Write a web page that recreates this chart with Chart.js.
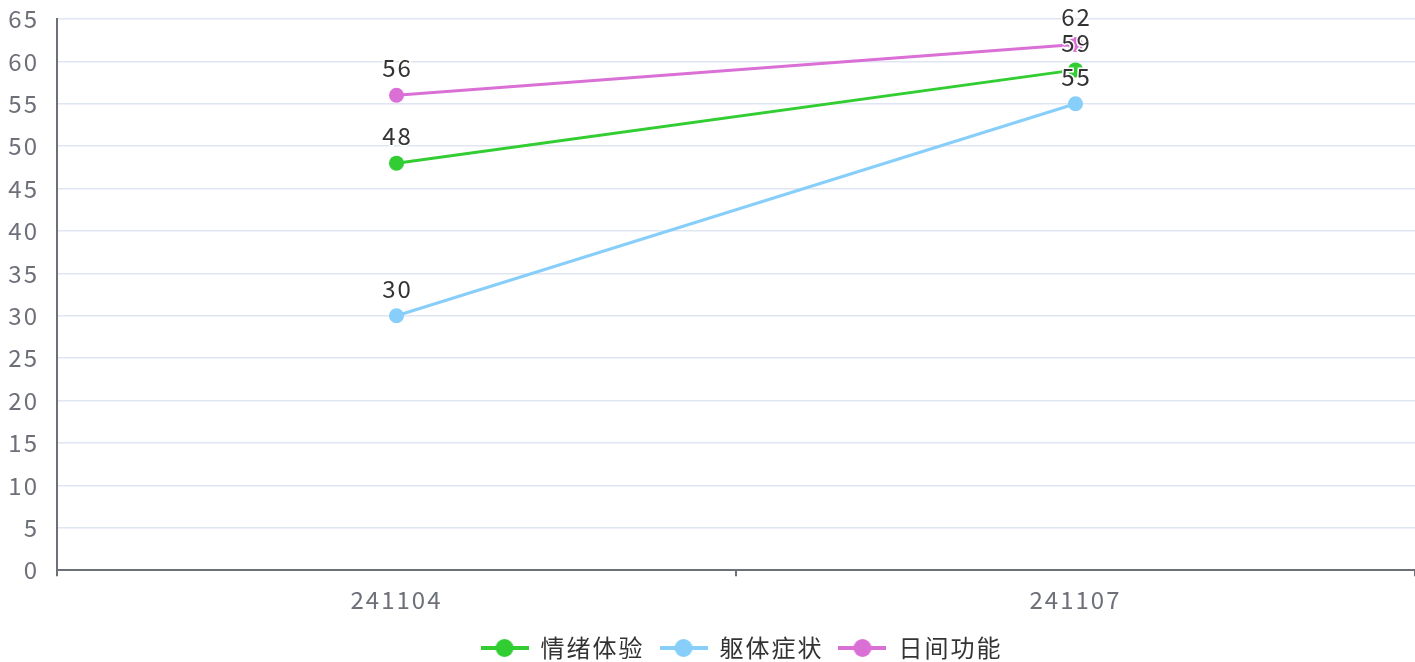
<!DOCTYPE html>
<html>
<head>
<meta charset="utf-8">
<script src="https://cdn.jsdelivr.net/npm/chart.js@4.4.0/dist/chart.umd.min.js"></script>
<style>
  html, body { margin: 0; padding: 0; background: #fff; }
  #wrap { width: 1415px; height: 662px; }
</style>
</head>
<body>
<div id="wrap"><canvas id="c"></canvas></div>
<script>
const categories = ["241104", "241107"];
const seriesNames = ["情绪体验", "躯体症状", "日间功能"];
const emotionValues = [48, 59];
const bodyValues = [30, 55];
const dayValues = [56, 62];
const yTicks = { min: 0, max: 65, step: 5 };

const cgreen = "#32CD32";
const cblue = "#87CEFA";
const corchid = "#DA70D6";
const caxis = "#6E7079";
const cgrid = "#E0E6F1";
const FONT = "'Noto Sans CJK SC', 'Noto Sans', sans-serif";
const colors = [cgreen, cblue, corchid];

// legend marker: short line with a dot on it
function marker(color) {
  const cv = document.createElement("canvas");
  cv.width = 48; cv.height = 20;
  const g = cv.getContext("2d");
  g.strokeStyle = color;
  g.lineWidth = 4;
  g.beginPath(); g.moveTo(0, 10); g.lineTo(48, 10); g.stroke();
  g.fillStyle = color;
  g.beginPath(); g.arc(24, 10, 9, 0, Math.PI * 2); g.fill();
  return cv;
}

// text in the reference is spaced a bit wider
const spacing = {
  id: "spacing",
  beforeUpdate(chart) { chart.ctx.letterSpacing = "2px"; },
  beforeLayout(chart) { chart.ctx.letterSpacing = "2px"; },
  beforeDraw(chart) { chart.ctx.letterSpacing = "2px"; }
};

// legend sits a little lower and right of centre in the reference
const legendShift = {
  id: "legendShift",
  afterLayout(chart) {
    const lg = chart.legend;
    lg.left += 34; lg.right += 34;
    lg.top += 8; lg.bottom += 8;
  }
};

const valueLabels = {
  id: "valueLabels",
  afterDatasetsDraw(chart) {
    const ctx = chart.ctx;
    ctx.save();
    ctx.font = "24px " + FONT;
    ctx.textAlign = "center";
    ctx.textBaseline = "alphabetic";
    ctx.lineWidth = 3;
    ctx.strokeStyle = "#fff";
    ctx.fillStyle = "#333";
    chart.data.datasets.forEach((ds, i) => {
      chart.getDatasetMeta(i).data.forEach((pt, j) => {
        const t = String(ds.data[j]);
        ctx.strokeText(t, pt.x + 1, pt.y - 18);
        ctx.fillText(t, pt.x + 1, pt.y - 18);
      });
    });
    ctx.restore();
  }
};

function ds(label, values, color) {
  return {
    label: label,
    data: values,
    borderColor: color,
    backgroundColor: color,
    borderWidth: 3,
    pointRadius: 7.5,
    pointHoverRadius: 7.5,
    pointBorderWidth: 0,
    tension: 0
  };
}

new Chart(document.getElementById("c"), {
  type: "line",
  data: {
    labels: categories,
    datasets: [
      ds(seriesNames[0], emotionValues, cgreen),
      ds(seriesNames[1], bodyValues, cblue),
      ds(seriesNames[2], dayValues, corchid)
    ]
  },
  plugins: [spacing, legendShift, valueLabels],
  options: {
    responsive: true,
    maintainAspectRatio: false,
    animation: false,
    layout: { autoPadding: false, padding: { top: 19, right: 0, left: 0, bottom: 0 } },
    scales: {
      x: {
        offset: true,
        afterFit(scale) {
          scale.paddingLeft = 0; scale.paddingRight = 0;
          scale.height -= 10;
        },
        grid: { offset: true, drawOnChartArea: false, tickLength: 6, color: caxis, lineWidth: 2 },
        border: { color: caxis, width: 2 },
        ticks: { color: caxis, font: { size: 24, family: FONT }, padding: 9 }
      },
      y: {
        min: yTicks.min,
        max: yTicks.max,
        afterFit(scale) {
          scale.width = 57;
          scale.paddingTop = 0; scale.paddingBottom = 0;
        },
        grid: { color: cgrid, lineWidth: 1.5, drawTicks: false },
        border: { color: caxis, width: 2 },
        ticks: { stepSize: yTicks.step, color: caxis, font: { size: 24, family: FONT }, padding: 18 }
      }
    },
    plugins: {
      tooltip: { enabled: false },
      legend: {
        position: "bottom",
        labels: {
          usePointStyle: true,
          pointStyleWidth: 48,
          color: "#333",
          font: { size: 24, family: FONT },
          padding: 15,
          generateLabels(chart) {
            return chart.data.datasets.map((d, i) => ({
              text: d.label,
              pointStyle: marker(colors[i]),
              fontColor: "#333",
              strokeStyle: colors[i],
              fillStyle: colors[i],
              lineWidth: 0,
              datasetIndex: i,
              hidden: false
            }));
          }
        }
      }
    }
  }
});
</script>
</body>
</html>
